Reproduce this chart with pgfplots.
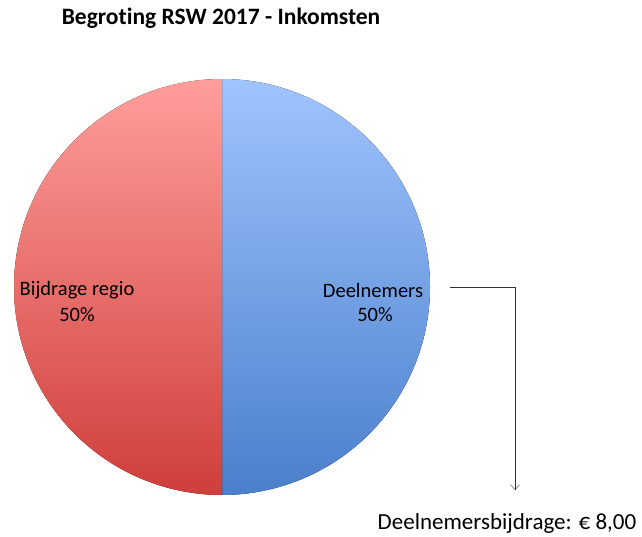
\documentclass[border=0pt]{standalone}
\usepackage{pgfplots}
\pgfplotsset{compat=1.18}
\usepackage{fontspec}
\setmainfont[Ligatures=NoCommon]{Carlito}
\usetikzlibrary{arrows.meta}
\definecolor{redtop}{HTML}{FF9E9B}
\definecolor{redbot}{HTML}{CF3E3B}
\definecolor{bluetop}{HTML}{A0C4FF}
\definecolor{bluebot}{HTML}{4A7FCB}
% data: share of income (percent)
\def\valDeel{50}
\def\valRegio{50}
\begin{document}
\begin{tikzpicture}
\begin{axis}[
  width=642pt, height=535pt, scale only axis,
  xmin=0, xmax=642, ymin=0, ymax=535,
  hide axis, clip=false,
]
\pgfmathsetmacro{\aDeel}{90-3.6*\valDeel}
\pgfmathsetmacro{\aRegio}{90+3.6*\valRegio}
% Deelnemers slice (clockwise from top)
\fill[top color=bluetop, bottom color=bluebot]
  (axis cs:222,248) -- (axis cs:222,456) arc[start angle=90, end angle=\aDeel, radius=208pt] -- cycle;
% Bijdrage regio slice
\fill[top color=redtop, bottom color=redbot]
  (axis cs:222,248) -- (axis cs:222,456) arc[start angle=90, end angle=\aRegio, radius=208pt] -- cycle;
\node[font=\fontsize{23.5}{26}\selectfont\bfseries] at (axis cs:221,517) {Begroting RSW 2017 - Inkomsten};
\node[font=\fontsize{20.5}{24}\selectfont] at (axis cs:77,245) {Bijdrage regio};
\node[font=\fontsize{20.5}{24}\selectfont] at (axis cs:77,220) {50\%};
\node[font=\fontsize{20.5}{24}\selectfont] at (axis cs:373,245) {Deelnemers};
\node[font=\fontsize{20.5}{24}\selectfont] at (axis cs:375,220) {50\%};
\draw[black!80, -{Straight Barb[length=5pt,width=9pt]}] (axis cs:450,248) -- (axis cs:515,248) -- (axis cs:515,45);
\node[font=\fontsize{23}{26}\selectfont] at (axis cs:507,12) {Deelnemersbijdrage: € 8,00};
\end{axis}
\useasboundingbox (0,0) rectangle (642pt,535pt);
\end{tikzpicture}
\end{document}
